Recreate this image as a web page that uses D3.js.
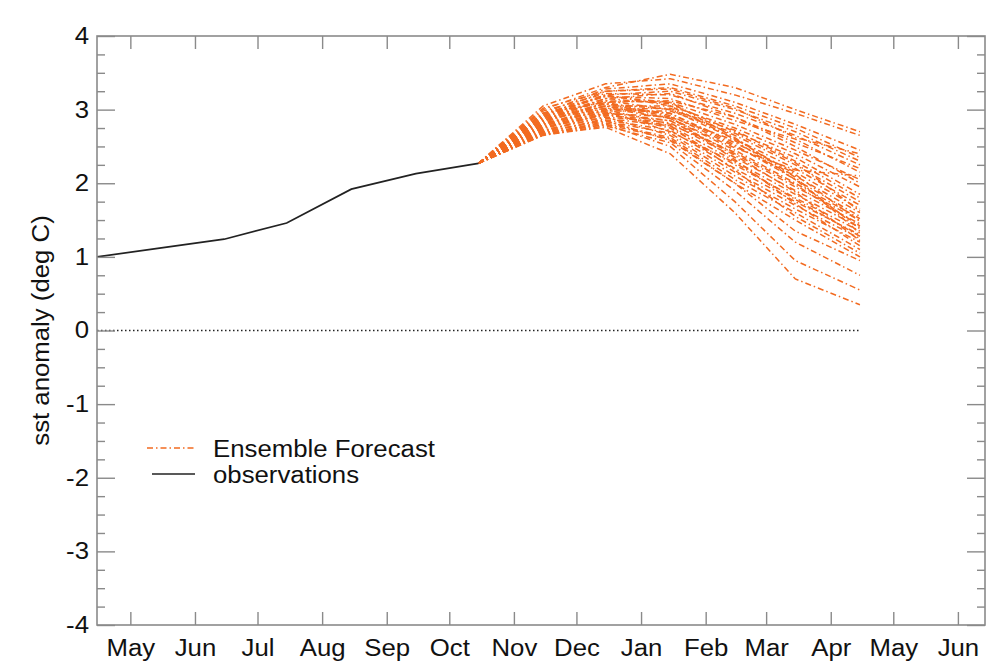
<!DOCTYPE html>
<html>
<head>
<meta charset="utf-8">
<script src="https://cdn.jsdelivr.net/npm/d3@7"></script>
<style>
	body { margin: 0; background: #fff; }
	svg text { font-family: "Liberation Sans", Arial, Helvetica, sans-serif; fill: #111; }
</style>
</head>
<body>
<div id="chart"></div>
<script>
// Data
// ----

// observed monthly anomalies (plotted mid-month)
const obsDates = ["2015-04-15", "2015-05-15", "2015-06-15", "2015-07-15", "2015-08-15", "2015-09-15", "2015-10-15"];
const obsValues = [1.00, 1.12, 1.24, 1.46, 1.92, 2.13, 2.27];

// forecast months: Nov .. Apr, every member starts from the last observation
const fcDates = ["2015-11-15", "2015-12-15", "2016-01-15", "2016-02-15", "2016-03-15", "2016-04-15"];
const ensemble = [
	[3.00, 3.30, 3.48, 3.30, 3.00, 2.70],
	[3.05, 3.35, 3.42, 3.20, 2.95, 2.65],
	[2.95, 3.28, 3.35, 3.10, 2.80, 2.45],
	[3.02, 3.25, 3.30, 3.05, 2.75, 2.35],
	[2.90, 3.20, 3.25, 3.00, 2.70, 2.30],
	[2.98, 3.22, 3.20, 2.95, 2.65, 2.25],
	[2.85, 3.15, 3.22, 2.90, 2.55, 2.20],
	[2.92, 3.18, 3.15, 2.85, 2.60, 2.15],
	[2.88, 3.12, 3.10, 2.80, 2.45, 2.05],
	[2.95, 3.10, 3.12, 2.90, 2.50, 2.00],
	[2.80, 3.05, 3.05, 2.75, 2.40, 1.95],
	[2.90, 3.15, 3.08, 2.70, 2.35, 1.85],
	[2.84, 3.08, 3.00, 2.72, 2.30, 1.80],
	[2.78, 3.00, 3.02, 2.65, 2.25, 1.75],
	[2.93, 3.20, 3.05, 2.60, 2.20, 1.70],
	[2.86, 3.02, 2.95, 2.55, 2.15, 1.65],
	[2.75, 2.98, 2.98, 2.68, 2.28, 1.62],
	[2.82, 3.10, 2.92, 2.50, 2.10, 1.60],
	[2.70, 2.95, 2.90, 2.58, 2.05, 1.55],
	[2.88, 3.05, 2.88, 2.45, 2.00, 1.52],
	[2.76, 2.92, 2.85, 2.40, 1.95, 1.50],
	[2.90, 3.12, 3.00, 2.60, 2.12, 1.48],
	[2.72, 2.90, 2.82, 2.35, 1.90, 1.45],
	[2.80, 3.00, 2.80, 2.42, 1.98, 1.42],
	[2.68, 2.88, 2.78, 2.30, 1.85, 1.40],
	[2.85, 3.05, 2.95, 2.52, 2.05, 1.38],
	[2.74, 2.95, 2.75, 2.25, 1.80, 1.35],
	[2.95, 3.18, 3.10, 2.62, 2.08, 1.32],
	[2.70, 2.86, 2.72, 2.20, 1.75, 1.30],
	[2.82, 2.98, 2.70, 2.28, 1.78, 1.28],
	[2.66, 2.84, 2.68, 2.15, 1.70, 1.25],
	[2.78, 2.96, 2.85, 2.38, 1.88, 1.22],
	[2.72, 2.90, 2.65, 2.10, 1.65, 1.20],
	[2.88, 3.08, 2.90, 2.32, 1.72, 1.15],
	[2.68, 2.82, 2.62, 2.05, 1.60, 1.10],
	[2.76, 2.94, 2.78, 2.18, 1.55, 1.05],
	[2.66, 2.80, 2.60, 2.00, 1.50, 1.00],
	[2.70, 2.85, 2.58, 2.00, 1.35, 0.95],
	[2.65, 2.78, 2.55, 1.90, 1.20, 0.75],
	[2.68, 2.80, 2.50, 1.75, 0.95, 0.55],
	[2.66, 2.76, 2.40, 1.60, 0.70, 0.35],
	[2.80, 3.02, 2.88, 2.48, 2.18, 2.10],
	[2.92, 3.25, 3.28, 3.02, 2.62, 2.40]
];

// axes
const xDomain = ["2015-04-15", "2016-06-14"];
const monthLabels = ["May", "Jun", "Jul", "Aug", "Sep", "Oct", "Nov", "Dec", "Jan", "Feb", "Mar", "Apr", "May", "Jun"];
const yTicks = [-4, -3, -2, -1, 0, 1, 2, 3, 4];
const yMinorTicks = d3.range(-4, 4.01, 0.25).filter(v => !yTicks.includes(v));
const legendLabels = ["Ensemble Forecast", "observations"];

// Layout
// ------

const W = 989, H = 666;
const box = {left: 97, right: 985, top: 36, bottom: 625};
const orange = "#f26b21";
const axisColor = "#8a8a8a";
const dashDot = "6,3,1.5,3";
const fontSize = "23px";
const stretch = 1.12;   // the original plot is a little wider than tall

const parseDate = d3.timeParse("%Y-%m-%d");

const x = d3.scaleTime()
	.domain(xDomain.map(parseDate))
	.range([box.left, box.right]);
const y = d3.scaleLinear()
	.domain([-4, 4])
	.range([box.bottom, box.top]);

const svg = d3.select("#chart").append("svg")
	.attr("width", W)
	.attr("height", H)
	.style("background", "#fff");

const monthTicks = d3.timeMonth.range(parseDate("2015-05-01"), parseDate("2016-06-02"));

// Zero line
svg.append("line")
	.attr("x1", box.left)
	.attr("x2", x(parseDate(fcDates[fcDates.length - 1])))
	.attr("y1", y(0))
	.attr("y2", y(0))
	.attr("stroke", "#222")
	.attr("stroke-width", 1.3)
	.attr("stroke-dasharray", "1.5,2.5");

// Ensemble members
const line = d3.line()
	.x(d => x(d[0]))
	.y(d => y(d[1]));

const startDate = parseDate(obsDates[obsDates.length - 1]);
const startValue = obsValues[obsValues.length - 1];

svg.append("g")
	.selectAll("path")
	.data(ensemble)
	.join("path")
		.attr("fill", "none")
		.attr("stroke", orange)
		.attr("stroke-width", 1.5)
		.attr("stroke-dasharray", dashDot)
		.attr("d", m => line([[startDate, startValue]].concat(m.map((v, i) => [parseDate(fcDates[i]), v]))));

// Observations
svg.append("path")
	.datum(obsDates.map((d, i) => [parseDate(d), obsValues[i]]))
	.attr("fill", "none")
	.attr("stroke", "#222")
	.attr("stroke-width", 1.7)
	.attr("d", line);

// Axes (ticks point inward on all four sides)
function styleAxis(g) {
	g.select(".domain").remove();
	g.selectAll(".tick line").attr("stroke", axisColor).attr("stroke-width", 1.4);
	g.selectAll(".tick text")
		.style("font-size", fontSize)
		.attr("fill", "#111");
}

svg.append("g")
	.attr("transform", "translate(" + box.left + ",0)")
	.call(d3.axisLeft(y).tickValues(yTicks).tickSizeInner(-18).tickSizeOuter(0).tickPadding(8).tickFormat(d => String(d)))
	.call(styleAxis);
svg.append("g")
	.attr("transform", "translate(" + box.left + ",0)")
	.call(d3.axisLeft(y).tickValues(yMinorTicks).tickSizeInner(-8).tickSizeOuter(0).tickFormat(""))
	.call(styleAxis);
svg.append("g")
	.attr("transform", "translate(" + box.right + ",0)")
	.call(d3.axisRight(y).tickValues(yTicks).tickSizeInner(-18).tickSizeOuter(0).tickFormat(""))
	.call(styleAxis);
svg.append("g")
	.attr("transform", "translate(" + box.right + ",0)")
	.call(d3.axisRight(y).tickValues(yMinorTicks).tickSizeInner(-8).tickSizeOuter(0).tickFormat(""))
	.call(styleAxis);

svg.append("g")
	.attr("transform", "translate(0," + box.bottom + ")")
	.call(d3.axisBottom(x).tickValues(monthTicks).tickSizeInner(-13).tickSizeOuter(0).tickPadding(15)
		.tickFormat((d, i) => monthLabels[i]))
	.call(styleAxis);
svg.append("g")
	.attr("transform", "translate(0," + box.top + ")")
	.call(d3.axisTop(x).tickValues(monthTicks).tickSizeInner(-13).tickSizeOuter(0).tickFormat(""))
	.call(styleAxis);

// Frame
svg.append("rect")
	.attr("x", box.left)
	.attr("y", box.top)
	.attr("width", box.right - box.left)
	.attr("height", box.bottom - box.top)
	.attr("fill", "none")
	.attr("stroke", axisColor)
	.attr("stroke-width", 1.6);

// y-label
svg.append("text")
	.attr("transform", "rotate(-90)")
	.attr("x", -y(0))
	.attr("y", 49)
	.style("text-anchor", "middle")
	.style("font-size", fontSize)
	.text("sst anomaly (deg C)");

// Legend
const legend = svg.append("g");
legend.append("line")
	.attr("x1", 147).attr("x2", 195)
	.attr("y1", 448).attr("y2", 448)
	.attr("stroke", orange)
	.attr("stroke-width", 1.5)
	.attr("stroke-dasharray", dashDot);
legend.append("line")
	.attr("x1", 152).attr("x2", 195)
	.attr("y1", 474).attr("y2", 474)
	.attr("stroke", "#222")
	.attr("stroke-width", 1.7);
legend.selectAll("text")
	.data(legendLabels)
	.join("text")
		.attr("x", 213)
		.attr("y", (d, i) => 457 + i * 26)
		.style("font-size", fontSize)
		.text(d => d);

// widen every label a little so it fills the same room as in the original
svg.selectAll("text").each(function() {
	let len = this.getComputedTextLength();
	if (len > 0) {
		d3.select(this)
			.attr("textLength", len * stretch)
			.attr("lengthAdjust", "spacingAndGlyphs");
	}
});
</script>
</body>
</html>
